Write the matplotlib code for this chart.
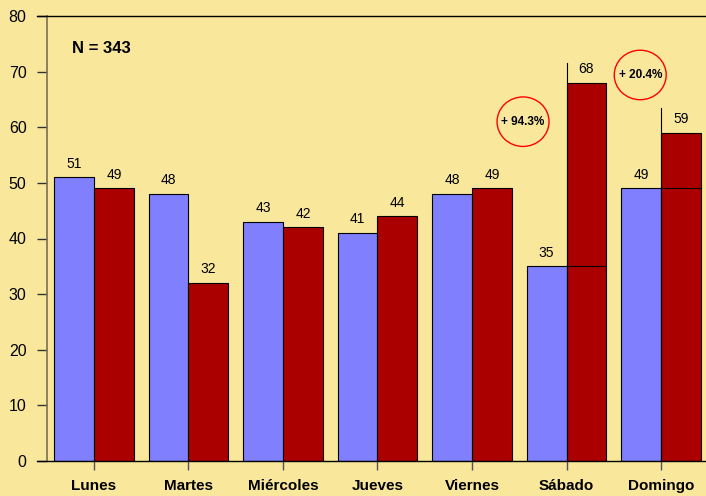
import numpy as np
import matplotlib.pyplot as plt
from matplotlib.patches import Ellipse

DAYS   = ["Lunes", "Martes", "Miércoles", "Jueves", "Viernes", "Sábado", "Domingo"]
BLUE_V = [51, 48, 43, 41, 48, 35, 49]
RED_V  = [49, 32, 42, 44, 49, 68, 59]
N_TEXT = "N = 343"

# weekend comparison marks: (day index, top of the guide line, label)
WEEKEND = [(5, 71.5, "+ 94.3%"), (6, 63.5, "+ 20.4%")]
CIRCLES = [(4.54, 61.0), (5.78, 69.4)]   # centres of the red ellipses

BG    = "#F9E79C"
BLUE  = "#8080FF"
RED   = "#AA0000"
W     = 0.423

plt.rcParams.update({'font.family': ['Liberation Sans', 'DejaVu Sans']})
fig = plt.figure(figsize=(7.06, 4.96), dpi=100, facecolor=BG)
ax = fig.add_axes([47 / 706, 35 / 496, 659 / 706, 445 / 496], facecolor=BG)

x = np.arange(len(DAYS))
ax.bar(x - W / 2, BLUE_V, W, color=BLUE, edgecolor='black', linewidth=0.8, zorder=2)
ax.bar(x + W / 2, RED_V, W, color=RED, edgecolor='black', linewidth=0.8, zorder=2)

for xi, b, r in zip(x, BLUE_V, RED_V):
    ax.text(xi - W / 2, b + 1.2, str(b), ha='center', va='bottom', fontsize=10)
    ax.text(xi + W / 2, r + 1.2, str(r), ha='center', va='bottom', fontsize=10)

for (i, top, lab), (cx, cy) in zip(WEEKEND, CIRCLES):
    ax.plot([i, i], [0, top], color='black', linewidth=0.8, zorder=3)
    ax.plot([i, i + W], [BLUE_V[i], BLUE_V[i]], color='black',
            linewidth=0.8, zorder=3)
    ax.add_patch(Ellipse((cx, cy), 0.55, 8.9, fill=False, edgecolor='red',
                         linewidth=1.0, zorder=4))
    ax.text(cx, cy, lab, ha='center', va='center', fontsize=8.5,
            fontweight='bold', zorder=5)

ax.text(0.038, 0.928, N_TEXT, transform=ax.transAxes, fontsize=12,
        fontweight='bold', ha='left', va='center')

ax.set_xlim(-0.497, 6.476)
ax.set_ylim(0, 80)
ax.set_yticks(range(0, 81, 10))
ax.set_xticks(x)
ax.set_xticklabels(DAYS, fontweight='bold', fontsize=11)
ax.tick_params(axis='y', length=7.2, width=1.0, color='#333333', pad=7.5,
               labelsize=11.5)
ax.tick_params(axis='x', length=6.5, width=1.0, color='#555555', pad=6.5,
               direction='out')

for s in ['right', 'top', 'bottom']:
    ax.spines[s].set_visible(False)
ax.spines['left'].set_color('#7a6e50')
ax.spines['left'].set_linewidth(1.2)

# frame lines that run past the y axis
ax.plot([-10 / 659, 1], [0, 0], transform=ax.transAxes, color='black',
        linewidth=1.0, clip_on=False, zorder=5)
ax.plot([-10 / 659, 1], [1, 1], transform=ax.transAxes, color='black',
        linewidth=1.0, clip_on=False, zorder=5)

fig.savefig("out.png", dpi=100, facecolor=BG)
